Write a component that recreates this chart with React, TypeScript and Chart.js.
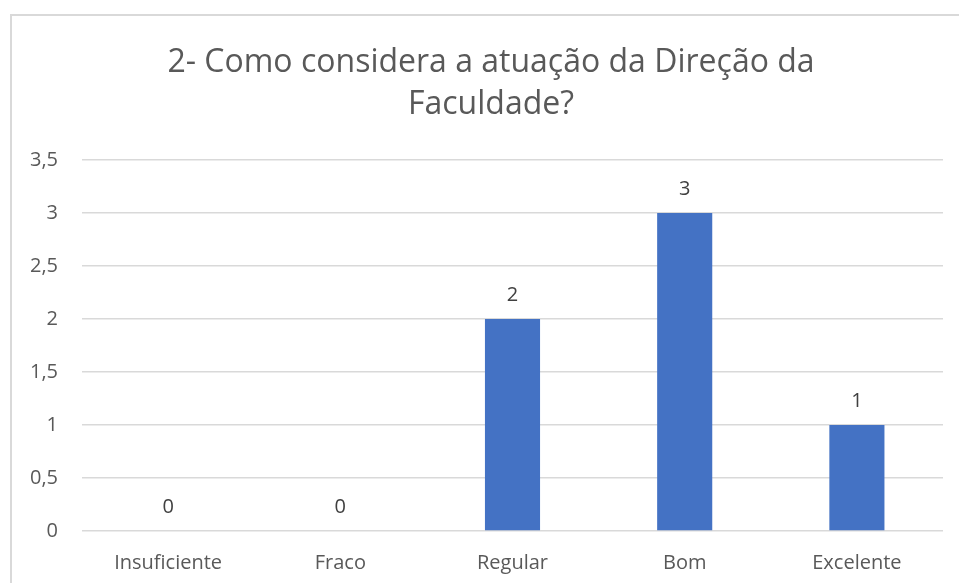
import React, { useEffect, useRef } from "react";
import { Chart, registerables } from "chart.js";

Chart.register(...registerables);

const categories = ["Insuficiente", "Fraco", "Regular", "Bom", "Excelente"];
const values = [0, 0, 2, 3, 1];
const titleLines = ["2- Como considera a atuação da Direção da", "Faculdade?"];
const yMax = 3.5;
const yStep = 0.5;

const FONT = "'Open Sans', 'Noto Sans', sans-serif";

const frame = {
  id: "frame",
  beforeDraw(chart: any) {
    const ctx = chart.ctx;
    ctx.save();
    ctx.fillStyle = "#ffffff";
    ctx.fillRect(0, 0, chart.width, chart.height);
    ctx.strokeStyle = "#d9d9d9";
    ctx.lineWidth = 2;
    ctx.strokeRect(11, 15, chart.width + 20, chart.height + 20);
    ctx.restore();
  },
};

const titleDraw = {
  id: "titleDraw",
  afterDraw(chart: any) {
    const ctx = chart.ctx;
    ctx.save();
    ctx.font = `32px ${FONT}`;
    ctx.fillStyle = "#595959";
    ctx.textAlign = "center";
    ctx.textBaseline = "middle";
    titleLines.forEach((line, i) => {
      ctx.fillText(line, 491, 63 + i * 42);
    });
    ctx.restore();
  },
};

const valueLabels = {
  id: "valueLabels",
  afterDatasetsDraw(chart: any) {
    const ctx = chart.ctx;
    const meta = chart.getDatasetMeta(0);
    ctx.save();
    ctx.font = `20px ${FONT}`;
    ctx.fillStyle = "#404040";
    ctx.textAlign = "center";
    ctx.textBaseline = "middle";
    meta.data.forEach((bar: any, i: number) => {
      ctx.fillText(String(values[i]), bar.x, bar.y - 24);
    });
    ctx.restore();
  },
};

export default function App() {
  const ref = useRef<HTMLCanvasElement | null>(null);
  useEffect(() => {
    if (!ref.current) return;
    const chart = new Chart(ref.current, {
      type: "bar",
      data: {
        labels: categories,
        datasets: [
          {
            data: values,
            backgroundColor: "#4472C4",
            borderWidth: 0,
            categoryPercentage: 1,
            barPercentage: 0.32,
          },
        ],
      },
      options: {
        animation: false,
        responsive: false,
        layout: { padding: { left: 0, right: 16, top: 160, bottom: 0 } },
        plugins: {
          legend: { display: false },
          tooltip: { enabled: false },
          title: { display: false },
        },
        scales: {
          x: {
            grid: { display: false, drawTicks: false },
            border: { display: false },
            ticks: { color: "#595959", font: { family: FONT, size: 20 }, padding: 20 },
            afterFit: (s: any) => {
              s.height = 52;
            },
          },
          y: {
            min: 0,
            max: yMax,
            ticks: {
              stepSize: yStep,
              color: "#595959",
              font: { family: FONT, size: 20 },
              padding: 24,
              callback: (v: any) => String(v).replace(".", ","),
            },
            grid: { color: "#d9d9d9", lineWidth: 1.5, drawTicks: false },
            border: { display: false },
            afterFit: (s: any) => {
              s.width = 82;
            },
          },
        },
      },
      plugins: [frame, valueLabels, titleDraw],
    });
    return () => chart.destroy();
  }, []);
  return (
    <div style={{ position: "fixed", left: 0, top: 0, width: 959, height: 583 }}>
      <canvas ref={ref} width={959} height={583} style={{ display: "block" }} />
    </div>
  );
}
